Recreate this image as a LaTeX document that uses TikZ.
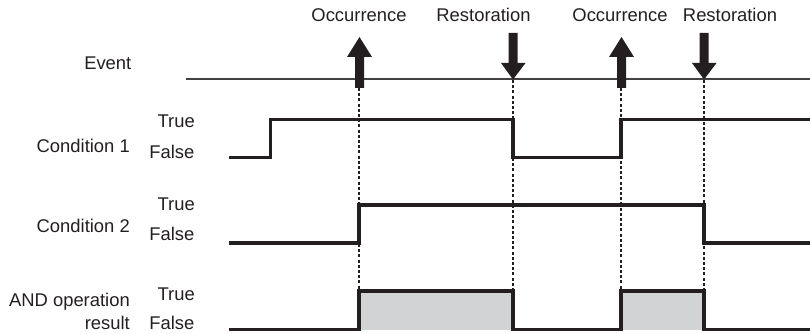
\documentclass[tikz,border=0pt]{standalone}
\usepackage{fontspec}
\setmainfont{Liberation Sans}
\definecolor{fillgray}{HTML}{D1D3D4}
\definecolor{ink}{HTML}{231F20}
\tikzset{
  sig/.style={line width=3.8pt, draw=ink, line join=miter},
  guide/.style={line width=1.2pt, draw=ink, dash pattern=on 3pt off 2.2pt},
  evline/.style={line width=1.3pt, draw=ink!85},
  lbl/.style={font=\fontsize{18.4}{21}\selectfont, text=ink, inner sep=0pt},
  arr/.style={fill=ink, draw=none}
}
\begin{document}
\begin{tikzpicture}[x=1pt,y=-1pt]
\useasboundingbox (0,0) rectangle (810,334);
% key x positions
\coordinate (o1) at (359,0);
\coordinate (r1) at (513,0);
\coordinate (o2) at (621,0);
\coordinate (r2) at (704,0);
% gray fills for AND result
\fill[fillgray] (359,291) rectangle (513,330);
\fill[fillgray] (621,291) rectangle (704,330);
% guide lines
\draw[guide] (359,88) -- (359,291);
\draw[guide] (513,80) -- (513,291);
\draw[guide] (621,88) -- (621,291);
\draw[guide] (704,80) -- (704,291);
% event line
\draw[evline] (186,79) -- (810,79);
% arrows
\fill[arr] (355,88) -- (355,57) -- (347,57) -- (359.5,37) -- (372,57) -- (364,57) -- (364,88) -- cycle;
\fill[arr] (617,88) -- (617,57) -- (609,57) -- (621.5,37) -- (634,57) -- (626,57) -- (626,88) -- cycle;
\fill[arr] (508.5,33) -- (508.5,63) -- (501,63) -- (513,79.5) -- (525.5,63) -- (517.5,63) -- (517.5,33) -- cycle;
\fill[arr] (699.5,33) -- (699.5,63) -- (692,63) -- (704,79.5) -- (716.5,63) -- (708.5,63) -- (708.5,33) -- cycle;
% signals
\draw[sig] (229,157.5) -- (270.5,157.5) -- (270.5,119.5) -- (513,119.5) -- (513,157.5) -- (621,157.5) -- (621,119.5) -- (810,119.5);
\draw[sig] (229,243) -- (359,243) -- (359,205) -- (704,205) -- (704,243) -- (810,243);
\draw[sig] (229,329.5) -- (359,329.5) -- (359,291) -- (513,291) -- (513,329.5) -- (621,329.5) -- (621,291) -- (704,291) -- (704,329.5) -- (810,329.5);
% top labels
\node[lbl, anchor=base] (t1) at (359,22) {Occurrence};
\node[lbl, anchor=base] (t2) at (483.5,22) {Restoration};
\node[lbl, anchor=base] (t3) at (620,22) {Occurrence};
\node[lbl, anchor=base] (t4) at (730,22) {Restoration};
% row labels
\node[lbl, anchor=base east] (ev) at (131.5,70) {Event};
\node[lbl, anchor=base east] (c1) at (130,152) {Condition 1};
\node[lbl, anchor=base east] (c2) at (130,232) {Condition 2};
\node[lbl, anchor=base east] (a1) at (130,306) {AND operation};
\node[lbl, anchor=base east] (a2) at (130,329) {result};
% true/false labels
\node[lbl, anchor=base east] (tr1) at (195,128) {True};
\node[lbl, anchor=base east] (fa1) at (194.5,158) {False};
\node[lbl, anchor=base east] (tr2) at (195,210) {True};
\node[lbl, anchor=base east] (fa2) at (194.5,240) {False};
\node[lbl, anchor=base east] (tr3) at (195,300) {True};
\node[lbl, anchor=base east] (fa3) at (194.5,329) {False};
\end{tikzpicture}
\end{document}
